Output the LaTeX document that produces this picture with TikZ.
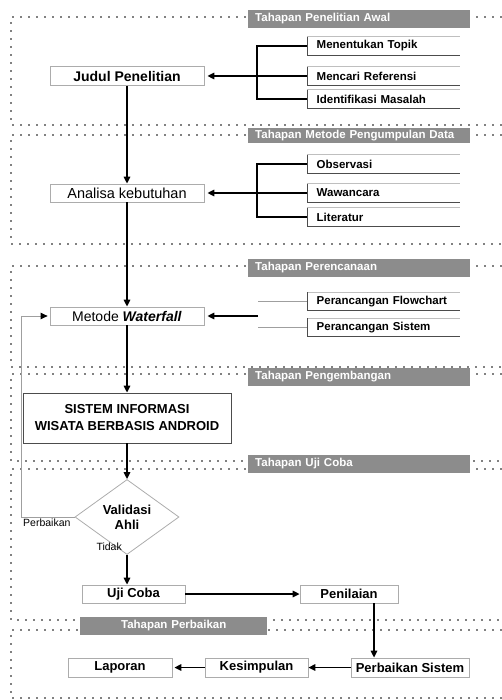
\documentclass[tikz,border=0pt]{standalone}
\usepackage{fontspec}
\setmainfont{Liberation Sans}
\usetikzlibrary{arrows.meta,shapes.geometric}

\begin{document}
\begin{tikzpicture}[x=1pt,y=-1pt]
	\tikzset{
		frame/.style={line width=1.8pt,line cap=round,dash pattern=on 0pt off 8pt},
		stage/.style={fill=black!45,text=white,font=\bfseries\fontsize{11.5}{13}\selectfont,anchor=west,minimum width=222pt,minimum height=18pt,inner xsep=7pt,inner ysep=0pt,text width=208pt,align=left},
		box/.style={draw=gray!65,line width=0.8pt,fill=white,minimum width=154pt,minimum height=18pt,inner sep=0pt,font=\bfseries\fontsize{13}{15}\selectfont},
		item/.style={anchor=west,minimum width=153pt,minimum height=18pt,inner sep=0pt,text width=134pt,align=left,font=\bfseries\fontsize{11.5}{13}\selectfont},
		itemtop/.style={draw=gray!50,line width=0.8pt},
		itemline/.style={draw=gray!60!black,line width=0.9pt},
		arr/.style={-{Triangle[length=7pt,width=6.5pt]},line width=1.5pt},
		link/.style={line width=1.5pt},
		stub/.style={draw=gray!75,line width=0.9pt},
		lbl/.style={font=\fontsize{10.5}{12}\selectfont,inner sep=2pt}
	}
	\useasboundingbox (0,0) rectangle (501,700);
	% dotted stage frames
	\foreach \t/\b in {17/125,135/244,266/367,374/461,469/620,630/698}
		\draw[frame] (501,\t) -- (11,\t) -- (11,\b) -- (501,\b);
	% stage labels
	\node[stage] (st1) at (248,19) {Tahapan Penelitian Awal};
	\node[stage,minimum height=15pt] (st2) at (248,136) {Tahapan Metode Pengumpulan Data};
	\node[stage] (st3) at (248,268) {Tahapan Perencanaan};
	\node[stage] (st4) at (248,377) {Tahapan Pengembangan};
	\node[stage] (st5) at (248,464) {Tahapan Uji Coba};
	\node[stage,minimum width=187pt,text width=173pt,align=center] (st6) at (80,626) {Tahapan Perbaikan};
	% main flow
	\node[box,font=\bfseries\fontsize{14}{16}\selectfont,minimum height=19pt] (judul) at (127,76) {Judul Penelitian};
	\node[box,font=\fontsize{14.5}{16}\selectfont] (analisa) at (127,193) {Analisa kebutuhan};
	\node[box,font=\fontsize{14}{16}\selectfont] (metode) at (127,316) {Metode \textbf{\textit{Waterfall}}};
	\node[box,draw=gray!60!black,minimum width=208pt,minimum height=50pt,align=center,font=\bfseries\fontsize{13}{17}\selectfont] (sistem) at (127,418) {SISTEM INFORMASI\\WISATA BERBASIS ANDROID};
	\node[box,diamond,minimum width=104pt,minimum height=75pt,align=center,fill=none] (validasi) at (127,517) {Validasi\\Ahli};
	\node[box,minimum width=103pt] (ujicoba) at (133.5,594) {Uji Coba};
	\node[box,minimum width=98pt] (penilaian) at (349,594) {Penilaian};
	\node[box,minimum width=118pt,minimum height=19pt] (perbaikan) at (410,667.5) {Perbaikan Sistem};
	\node[box,minimum width=103pt,minimum height=19pt] (kesimpulan) at (256.5,667.5) {Kesimpulan};
	\node[box,minimum width=104pt,minimum height=19pt] (laporan) at (120,667.5) {Laporan};
	% side items
	\node[item] (topik) at (307,46) {Menentukan Topik};
	\node[item] (referensi) at (307,76) {Mencari Referensi};
	\node[item] (masalah) at (307,99) {Identifikasi Masalah};
	\node[item] (observasi) at (307,164) {Observasi};
	\node[item] (wawancara) at (307,193) {Wawancara};
	\node[item] (literatur) at (307,217) {Literatur};
	\node[item] (flowchart) at (307,301.5) {Perancangan~Flowchart};
	\node[item] (rancangsistem) at (307,327.5) {Perancangan Sistem};
	\foreach \n in {topik,referensi,masalah,observasi,wawancara,literatur,flowchart,rancangsistem}{
		\draw[itemtop] (\n.north west) -- (\n.north east);
		\draw[itemline] (\n.north west) -- (\n.south west) -- (\n.south east);
	}
	% branches
	\coordinate (b1) at (257,76);
	\coordinate (b2) at (257,193);
	\coordinate (b3) at (258,316);
	\draw[link] (topik.west) -| (b1) |- (masalah.west);
	\draw[arr,shorten >=3pt] (referensi.west) -- (judul.east);
	\draw[link] (observasi.west) -| (b2) |- (literatur.west);
	\draw[arr,shorten >=3pt] (wawancara.west) -- (analisa.east);
	\draw[stub] (b3 |- flowchart.west) -- (flowchart.west);
	\draw[stub] (b3 |- rancangsistem.west) -- (rancangsistem.west);
	\draw[arr,shorten >=3pt] (b3) -- (metode.east);
	% connectors
	\draw[arr] (judul.south) -- (analisa.north);
	\draw[arr] (analisa.south) -- (metode.north);
	\draw[arr] (metode.south) -- (sistem.north);
	\draw[arr] (sistem.south) -- (validasi.north);
	\draw[arr] (validasi.south) -- (validasi.south |- ujicoba.north);
	\draw[arr] (ujicoba.east) -- (penilaian.west);
	\draw[arr] ([xshift=25pt]penilaian.south) -- ([xshift=25pt]penilaian.south |- perbaikan.north);
	\draw[arr] (perbaikan.west) -- (kesimpulan.east);
	\draw[arr,shorten >=2pt] (kesimpulan.west) -- (laporan.east);
	% feedback
	\coordinate (fb) at (21,517);
	\draw[stub,-{Triangle[length=7pt,width=6.5pt,black]}] (validasi.west) -- (fb) |- ([xshift=-2pt]metode.west);
	\node[lbl,anchor=north west] (perbaikanlbl) at (fb) {Perbaikan};
	\node[lbl,anchor=east] (tidaklbl) at (124,547) {Tidak};
\end{tikzpicture}
\end{document}
